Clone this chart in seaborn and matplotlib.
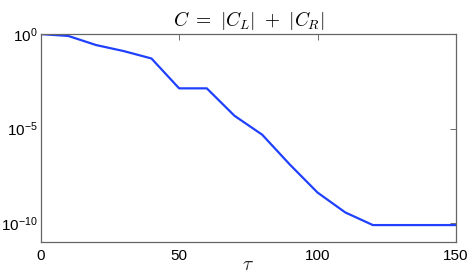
import numpy as np
import pandas as pd
import matplotlib
matplotlib.use('Agg')
import matplotlib.pyplot as plt
import matplotlib.ticker as mticker
import seaborn as sns

# values (log10 of C)
tau = [0, 10, 20, 30, 40, 50, 60, 70, 80, 90, 100, 110, 120, 130, 140, 150]
log_c = [0.0, -0.1, -0.58, -0.9, -1.29, -2.87, -2.87, -4.32, -5.32, -6.9, -8.38,
         -9.43, -10.1, -10.1, -10.1, -10.1]

df = pd.DataFrame({'tau': tau, 'C': 10.0 ** np.array(log_c)})

sns.set_style('white')
plt.rcParams['font.family'] = ['Liberation Sans', 'DejaVu Sans']
plt.rcParams['mathtext.fontset'] = 'cm'
plt.rcParams['text.color'] = 'black'
plt.rcParams['xtick.labelcolor'] = 'black'
plt.rcParams['ytick.labelcolor'] = 'black'

fig = plt.figure(figsize=(4.73, 2.77), dpi=100)
ax = fig.add_axes([0.086, 0.126, 0.878, 0.751])

sns.lineplot(data=df, x='tau', y='C', ax=ax, color='#2040ff', linewidth=1.6)

ax.set_yscale('log')
ax.set_xlim(0, 150)
ax.set_ylim(1e-11, 1e0)
ax.set_xticks([0, 50, 100, 150])
ax.set_yticks([1e-10, 1e-5, 1e0])
ax.yaxis.set_minor_locator(mticker.NullLocator())
ax.yaxis.set_major_formatter(mticker.FuncFormatter(
    lambda v, p: r'$\mathregular{10^{%d}}$' % round(np.log10(v))))
ax.tick_params(direction='in', length=4, width=0.6, color='#555555',
               labelsize=11, top=True, right=True)
ax.tick_params(axis='y', pad=2)
ax.tick_params(axis='x', pad=5)
for s in ax.spines.values():
    s.set_color('#666666')
    s.set_linewidth(0.9)

ax.set_title(r'$C\ =\ |C_L|\ +\ |C_R|$', fontsize=14, pad=6)
ax.set_xlabel(r'$\tau$', fontsize=14, labelpad=-4)
ax.set_ylabel('')

fig.savefig('out.png', dpi=100)
